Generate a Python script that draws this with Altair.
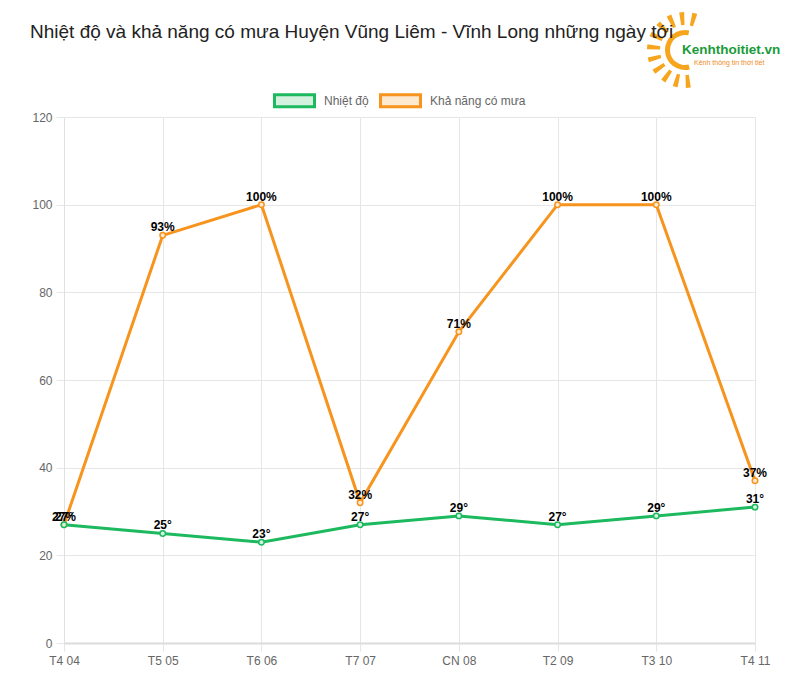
import altair as alt
import pandas as pd
import math

days = ["T4 04", "T5 05", "T6 06", "T7 07", "CN 08", "T2 09", "T3 10", "T4 11"]
temp = [27, 25, 23, 27, 29, 27, 29, 31]
rain = [27, 93, 100, 32, 71, 100, 100, 37]
series = ["Nhiệt độ", "Khả năng có mưa"]
units = ["°", "%"]
line_colors = ["#1db95f", "#f7941d"]
fill_colors = ["#d4f1e0", "#fde9cf"]
title_text = "Nhiệt độ và khả năng có mưa Huyện Vũng Liêm - Vĩnh Long những ngày tới"
y_ticks = [0, 20, 40, 60, 80, 100, 120]

rows = []
for s, vals, u, order in [(series[1], rain, units[1], 0), (series[0], temp, units[0], 1)]:
    for d, v in zip(days, vals):
        rows.append({"day": d, "value": v, "series": s, "label": f"{v}{u}", "order": order})
df = pd.DataFrame(rows)

FONT = "Liberation Sans"

x_enc = alt.X("day:N", sort=days, scale=alt.Scale(type="point", padding=0),
              axis=alt.Axis(title=None, labelAngle=0, labelFontSize=12, labelColor="#666",
                            labelFont=FONT, grid=True, gridColor="#e6e6e6", tickColor="#e6e6e6",
                            tickSize=8, labelPadding=4, domainColor="#dcdcdc", domainWidth=2))
y_enc = alt.Y("value:Q", scale=alt.Scale(domain=[0, 120], nice=False),
              axis=alt.Axis(title=None, values=y_ticks, labelFontSize=12, labelColor="#666",
                            labelFont=FONT, grid=True, gridColor="#e6e6e6", tickColor="#e6e6e6",
                            tickSize=8, labelPadding=4, domainColor="#e0e0e0"))


def make_legend():
    return alt.Legend(
        orient="none", legendX=209, legendY=-38, direction="horizontal", title=None,
        symbolType="M-1,-0.3H1V0.3H-1Z", symbolSize=1600, symbolStrokeWidth=3,
        labelFontSize=12, labelColor="#666", labelFont=FONT, columnPadding=5, labelOffset=8,
    )


stroke_enc = alt.Stroke("series:N", scale=alt.Scale(domain=series, range=line_colors),
                        legend=make_legend())
fill_enc = alt.Fill("series:N", scale=alt.Scale(domain=series, range=fill_colors),
                    legend=make_legend())

base = alt.Chart(df)
lines = base.mark_line(strokeWidth=3).encode(x=x_enc, y=y_enc, stroke=stroke_enc,
                                            detail="series:N")
points = base.mark_circle(size=30, strokeWidth=1.5, opacity=1).encode(
    x=x_enc, y=y_enc, stroke=stroke_enc, fill=fill_enc, order=alt.Order("order:Q"))
labels = base.mark_text(fontSize=12, fontWeight="bold", font=FONT, color="#000",
                        baseline="alphabetic", dy=-4).encode(x=x_enc, y=y_enc, text="label:N")

# logo (decoration)
ray_angles = [175, 195, 215, 235, 255, 275, 295, 315, 335, 355, 375]
ray_df = pd.DataFrame({"a": ray_angles})
ray_df["t1"] = (ray_df["a"] - 3.8) * math.pi / 180
ray_df["t2"] = (ray_df["a"] + 3.8) * math.pi / 180
rays = alt.Chart(ray_df).mark_arc(radius=38, radius2=25, color="#f7a51d").encode(
    theta=alt.Theta("t1:Q", scale=None), theta2="t2:Q", x=alt.value(621), y=alt.value(-67))
one = alt.Chart(ray_df).transform_filter("datum.a == 175")
sun_c = one.mark_arc(radius=20, radius2=15, color="#f7a51d", theta=2.9, theta2=6.5).encode(
    x=alt.value(621), y=alt.value(-67))
logo1 = one.mark_text(
    text="Kenhthoitiet.vn", fontSize=13.5, fontWeight="bold", font=FONT, color="#1a9b3a",
    align="left", baseline="middle").encode(x=alt.value(618), y=alt.value(-67))
logo2 = one.mark_text(
    text="Kênh thông tin thời tiết", fontSize=7, font=FONT, color="#f08a1c",
    align="left", baseline="middle").encode(x=alt.value(630), y=alt.value(-54))

chart = alt.layer(lines, points, labels, rays, sun_c, logo1, logo2).properties(
    width=691, height=526,
    autosize=alt.AutoSizeParams(type="none"),
    padding={"left": 56, "top": 109, "right": 29, "bottom": 33},
    background="white",
    title=alt.TitleParams(title_text, anchor="start", frame="group", dx=-34, dy=34, fontSize=19,
                          font=FONT, fontWeight="normal", color="#222"),
).configure_view(stroke=None)

chart.save("out.html", embed_options={"renderer": "svg", "actions": False})
